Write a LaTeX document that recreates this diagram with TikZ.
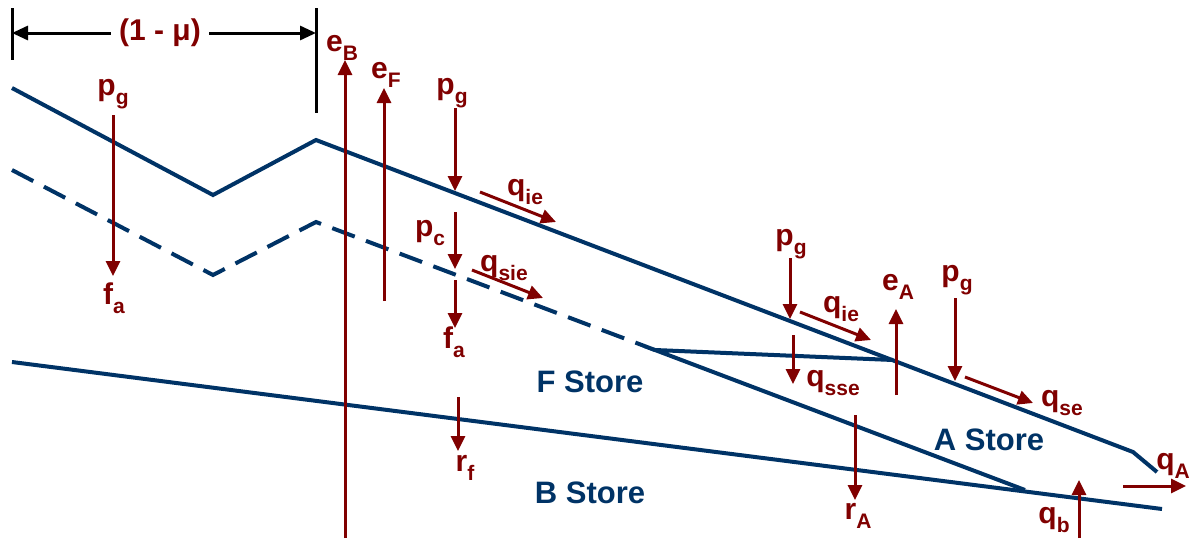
\documentclass[tikz,border=0pt]{standalone}
\usepackage{fontspec}
\setmainfont{Liberation Sans}
\usetikzlibrary{arrows.meta}
\definecolor{navy}{RGB}{0,51,102}
\definecolor{dred}{RGB}{128,0,0}
\newcommand{\mylab}[2]{#1\raisebox{-0.3em}{\fontsize{21}{21}\selectfont #2}}
\tikzset{
  flow/.style={draw=dred, line width=3pt, -{Triangle[length=15pt,width=14pt]}},
  surf/.style={draw=navy, line width=4pt},
  dsurf/.style={surf, dash pattern=on 24pt off 12pt},
  lbl/.style={text=dred, font=\bfseries\fontsize{30}{32}\selectfont, inner sep=0pt},
  store/.style={text=navy, font=\bfseries\fontsize{31}{33}\selectfont, inner sep=0pt},
  dimline/.style={draw=black, line width=3pt},
  dimarrow/.style={dimline, -{Triangle[length=16pt,width=14pt]}}
}
\begin{document}
\begin{tikzpicture}[x=1pt,y=-1pt]
\useasboundingbox (0,0) rectangle (1193,538);
% dimension
\coordinate (lt0) at (12,8); \coordinate (lt1) at (12,60);
\coordinate (rt0) at (316,8); \coordinate (rt1) at (316,113);
\coordinate (la) at (12,33); \coordinate (ra) at (316,33);
\draw[dimline] (lt0) -- (lt1);
\draw[dimline] (rt0) -- (rt1);
\node[lbl, inner xsep=8pt] (mu) at (160,33) {(1 - μ)};
\draw[dimarrow] (mu.west) -- (la);
\draw[dimarrow] (mu.east) -- (ra);
% surfaces
\coordinate (t0) at (12,88); \coordinate (t1) at (213,195); \coordinate (t2) at (316,140);
\coordinate (t3) at (1133,452); \coordinate (t4) at (1157,472);
\coordinate (d0) at (12,170); \coordinate (d1) at (213,275); \coordinate (d2) at (316,222);
\coordinate (j) at (655,350); \coordinate (h) at (893,360); \coordinate (k) at (1025,490);
\coordinate (b0) at (12,362); \coordinate (b1) at (1162,509);
\draw[surf] (t0) -- (t1) -- (t2) -- (t3) -- (t4);
\draw[dsurf] (d0) -- (d1) -- (d2) -- (j);
\draw[surf] (h) -- (j) -- (k);
\draw[surf] (b0) -- (b1);
% store labels
\node[store] (fs) at (590,382) {F Store};
\node[store] (as) at (989,440) {A Store};
\node[store] (bs) at (590,493) {B Store};
% labels
\node[lbl] (pg1) at (113,94) {\mylab{p}{g}};
\node[lbl] (fa1) at (114,298) {\mylab{f}{a}};
\node[lbl] (eB) at (342,48) {\mylab{e}{B}};
\node[lbl] (eF) at (386,75) {\mylab{e}{F}};
\node[lbl] (pg2) at (452,93) {\mylab{p}{g}};
\node[lbl] (qie1) at (525,192) {\mylab{q}{ie}};
\node[lbl] (pc) at (430,233) {\mylab{p}{c}};
\node[lbl] (qsie) at (504,268) {\mylab{q}{sie}};
\node[lbl] (fa2) at (454,342) {\mylab{f}{a}};
\node[lbl] (rf) at (465,468) {\mylab{r}{f}};
\node[lbl] (pg3) at (791,244) {\mylab{p}{g}};
\node[lbl] (qie2) at (841,309) {\mylab{q}{ie}};
\node[lbl] (eA) at (898,287) {\mylab{e}{A}};
\node[lbl] (qsse) at (833,383) {\mylab{q}{sse}};
\node[lbl] (pg4) at (957,280) {\mylab{p}{g}};
\node[lbl] (qse) at (1062,403) {\mylab{q}{se}};
\node[lbl] (rA) at (858,516) {\mylab{r}{A}};
\node[lbl] (qb) at (1054,520) {\mylab{q}{b}};
\node[lbl] (qA) at (1173,466) {\mylab{q}{A}};
% arrow coordinates
\coordinate (a1s) at (113,115); \coordinate (a1e) at (113,276);
\coordinate (eBs) at (345,538); \coordinate (eBe) at (345,60);
\coordinate (eFs) at (384,301); \coordinate (eFe) at (384,88);
\coordinate (p2s) at (455,108); \coordinate (p2e) at (455,191);
\coordinate (q1s) at (480,192); \coordinate (q1e) at (556,222);
\coordinate (pcs) at (455,212); \coordinate (pce) at (455,269);
\coordinate (qss) at (472,270); \coordinate (qse2) at (543,298);
\coordinate (fas) at (455,280); \coordinate (fae) at (455,328);
\coordinate (rfs) at (458,397); \coordinate (rfe) at (458,451);
\coordinate (p3s) at (790,258); \coordinate (p3e) at (790,319);
\coordinate (q2s) at (800,312); \coordinate (q2e) at (871,340);
\coordinate (eAs) at (896,395); \coordinate (eAe) at (896,309);
\coordinate (sss) at (793,335); \coordinate (sse) at (793,384);
\coordinate (p4s) at (955,298); \coordinate (p4e) at (955,381);
\coordinate (qes) at (965,377); \coordinate (qee) at (1033,403);
\coordinate (rAs) at (855,415); \coordinate (rAe) at (855,500);
\coordinate (qbs) at (1079,538); \coordinate (qbe) at (1079,480);
\coordinate (qAs) at (1123,486); \coordinate (qAe) at (1186,486);
\draw[flow] (a1s) -- (a1e);
\draw[flow] (eBs) -- (eBe);
\draw[flow] (eFs) -- (eFe);
\draw[flow] (p2s) -- (p2e);
\draw[flow] (q1s) -- (q1e);
\draw[flow] (pcs) -- (pce);
\draw[flow] (qss) -- (qse2);
\draw[flow] (fas) -- (fae);
\draw[flow] (rfs) -- (rfe);
\draw[flow] (p3s) -- (p3e);
\draw[flow] (q2s) -- (q2e);
\draw[flow] (eAs) -- (eAe);
\draw[flow] (sss) -- (sse);
\draw[flow] (p4s) -- (p4e);
\draw[flow] (qes) -- (qee);
\draw[flow] (rAs) -- (rAe);
\draw[flow] (qbs) -- (qbe);
\draw[flow] (qAs) -- (qAe);
\end{tikzpicture}
\end{document}
